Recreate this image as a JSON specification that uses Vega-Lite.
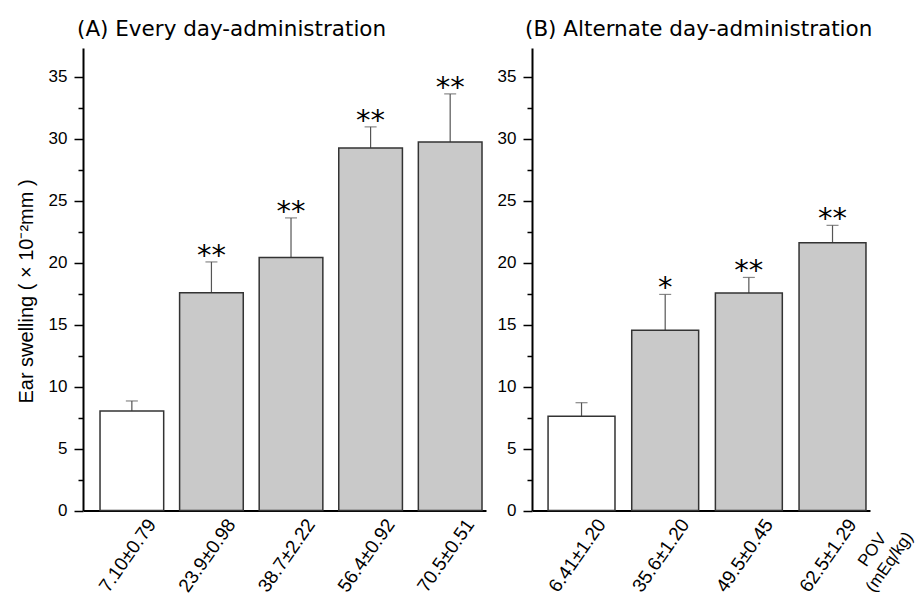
{
  "$schema": "https://vega.github.io/schema/vega-lite/v6.json",
  "background": "white",
  "padding": {"left": 16, "top": 19, "right": 0, "bottom": 0},
  "bounds": "flush",
  "spacing": 46,
  "config": {
    "view": {"stroke": null},
    "axis": {"labelColor": "black", "domainColor": "black", "tickColor": "black", "titleColor": "black", "grid": false}
  },
  "data": {
    "values": [
      {"panel": "A", "dose": "7.10±0.79", "mean": 8.03, "upper": 8.84, "sig": "", "group": "control"},
      {"panel": "A", "dose": "23.9±0.98", "mean": 17.57, "upper": 20.05, "sig": "**", "group": "POV"},
      {"panel": "A", "dose": "38.7±2.22", "mean": 20.4, "upper": 23.6, "sig": "**", "group": "POV"},
      {"panel": "A", "dose": "56.4±0.92", "mean": 29.24, "upper": 30.94, "sig": "**", "group": "POV"},
      {"panel": "A", "dose": "70.5±0.51", "mean": 29.73, "upper": 33.6, "sig": "**", "group": "POV"},
      {"panel": "B", "dose": "6.41±1.20", "mean": 7.6, "upper": 8.7, "sig": "", "group": "control"},
      {"panel": "B", "dose": "35.6±1.20", "mean": 14.55, "upper": 17.43, "sig": "*", "group": "POV"},
      {"panel": "B", "dose": "49.5±0.45", "mean": 17.55, "upper": 18.8, "sig": "**", "group": "POV"},
      {"panel": "B", "dose": "62.5±1.29", "mean": 21.6, "upper": 23.0, "sig": "**", "group": "POV"}
    ]
  },
  "hconcat": [
    {
      "width": 403,
      "height": 462.6,
      "transform": [{"filter": "datum.panel == 'A'"}],
      "title": {"text": "(A) Every day-administration", "anchor": "start", "frame": "group", "font": "DejaVu Sans", "fontSize": 21.5, "fontWeight": "normal", "color": "black", "dx": -6, "offset": 7},
      "encoding": {
        "x": {
          "field": "dose", "type": "nominal", "sort": null,
          "scale": {"paddingInner": 0.2, "paddingOuter": 0.132, "align": 0.81},
          "axis": {"title": null, "labelAngle": -55, "labelAlign": "right", "labelBaseline": "middle", "labelOffset": 20, "labelPadding": 10, "ticks": false, "domainWidth": 2, "labelFont": "Liberation Sans", "labelFontSize": 19, "labelOverlap": false, "labelLimit": 0}
        },
        "y": {
          "field": "mean", "type": "quantitative", "scale": {"domain": [0, 37.3], "nice": false},
          "axis": {
            "title": "Ear swelling  (  ×  10⁻²mm )",
            "values": [0, 2.5, 5, 7.5, 10, 12.5, 15, 17.5, 20, 22.5, 25, 27.5, 30, 32.5, 35],
            "labelExpr": "datum.value % 5 == 0 ? datum.label : ''",
            "tickSize": {"condition": {"test": "datum.value % 5 == 0", "value": 9}, "value": 5},
            "tickWidth": 1.5, "domainWidth": 2,
            "labelFont": "Liberation Sans", "labelFontSize": 17, "labelPadding": 7,
            "titleFont": "Liberation Sans", "titleFontSize": 20, "titleFontWeight": "normal",
            "titleAngle": -90, "titleAlign": "center", "titleBaseline": "alphabetic", "titleX": -51, "titleY": 243
          }
        }
      },
      "layer": [
        {
          "mark": {"type": "rule", "color": "#555555", "strokeWidth": 1.2},
          "encoding": {"y2": {"field": "upper"}}
        },
        {
          "mark": {"type": "bar", "stroke": "#333333", "strokeWidth": 1.5},
          "encoding": {
            "fill": {"field": "group", "type": "nominal", "scale": {"domain": ["control", "POV"], "range": ["white", "#c9c9c9"]}, "legend": null}
          }
        },
        {
          "mark": {"type": "tick", "color": "#555555", "thickness": 1.2, "size": 12, "orient": "horizontal"},
          "encoding": {
            "y": {"field": "upper", "type": "quantitative", "scale": {"domain": [0, 37.3], "nice": false}}
          }
        },
        {
          "mark": {"type": "text", "font": "DejaVu Sans", "fontSize": 29, "baseline": "alphabetic", "dy": 3, "color": "black"},
          "encoding": {
            "y": {"field": "upper", "type": "quantitative", "scale": {"domain": [0, 37.3], "nice": false}},
            "text": {"field": "sig"}
          }
        }
      ]
    },
    {
      "width": 338,
      "height": 462.6,
      "transform": [{"filter": "datum.panel == 'B'"}],
      "title": {"text": "(B) Alternate day-administration", "anchor": "start", "frame": "group", "font": "DejaVu Sans", "fontSize": 21.5, "fontWeight": "normal", "color": "black", "dx": -7, "offset": 7},
      "encoding": {
        "x": {
          "field": "dose", "type": "nominal", "sort": null,
          "scale": {"paddingInner": 0.2, "paddingOuter": 0.12, "align": 0.8},
          "axis": {"title": ["POV", "(mEq/kg)"], "titleAngle": -55, "titleAlign": "center", "titleBaseline": "middle", "titleX": 340, "titleY": 39, "titleFont": "Liberation Sans", "titleFontSize": 17, "titleFontWeight": "normal", "titleLineHeight": 21,
            "labelAngle": -55, "labelAlign": "right", "labelBaseline": "middle", "labelOffset": 20, "labelPadding": 10, "ticks": false, "domainWidth": 2, "labelFont": "Liberation Sans", "labelFontSize": 19, "labelOverlap": false, "labelLimit": 0}
        },
        "y": {
          "field": "mean", "type": "quantitative", "scale": {"domain": [0, 37.3], "nice": false},
          "axis": {
            "title": null,
            "values": [0, 2.5, 5, 7.5, 10, 12.5, 15, 17.5, 20, 22.5, 25, 27.5, 30, 32.5, 35],
            "labelExpr": "datum.value % 5 == 0 ? datum.label : ''",
            "tickSize": {"condition": {"test": "datum.value % 5 == 0", "value": 9}, "value": 5},
            "tickWidth": 1.5, "domainWidth": 2,
            "labelFont": "Liberation Sans", "labelFontSize": 17, "labelPadding": 7
          }
        }
      },
      "layer": [
        {
          "mark": {"type": "rule", "color": "#555555", "strokeWidth": 1.2},
          "encoding": {"y2": {"field": "upper"}}
        },
        {
          "mark": {"type": "bar", "stroke": "#333333", "strokeWidth": 1.5},
          "encoding": {
            "fill": {"field": "group", "type": "nominal", "scale": {"domain": ["control", "POV"], "range": ["white", "#c9c9c9"]}, "legend": null}
          }
        },
        {
          "mark": {"type": "tick", "color": "#555555", "thickness": 1.2, "size": 12, "orient": "horizontal"},
          "encoding": {
            "y": {"field": "upper", "type": "quantitative", "scale": {"domain": [0, 37.3], "nice": false}}
          }
        },
        {
          "mark": {"type": "text", "font": "DejaVu Sans", "fontSize": 29, "baseline": "alphabetic", "dy": 3, "color": "black"},
          "encoding": {
            "y": {"field": "upper", "type": "quantitative", "scale": {"domain": [0, 37.3], "nice": false}},
            "text": {"field": "sig"}
          }
        }
      ]
    }
  ]
}
